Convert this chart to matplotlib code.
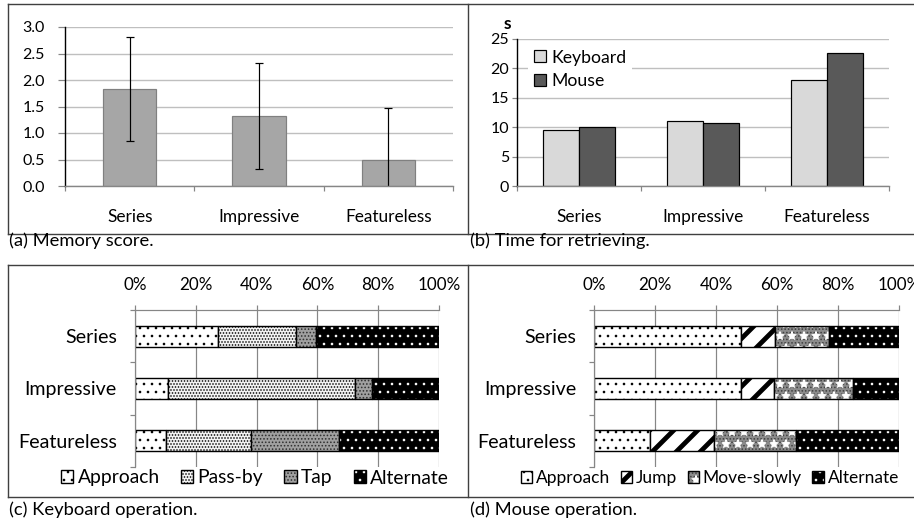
import numpy as np
import matplotlib
matplotlib.use('Agg')
import matplotlib.pyplot as plt
from matplotlib.lines import Line2D

plt.rcParams['font.family'] = ['Lato', 'DejaVu Sans']
plt.rcParams['hatch.linewidth'] = 0.5

# data
categories = ['Series', 'Impressive', 'Featureless']
memory_mean = [1.83, 1.33, 0.49]
memory_err = [0.99, 1.0, 0.99]

time_keyboard = [9.6, 11.1, 18.1]
time_mouse = [10.0, 10.7, 22.6]

kb_labels = ['Approach', 'Pass-by', 'Tap', 'Alternate']
kb_approach = [27.4, 11.0, 10.1]
kb_passby = [25.4, 61.5, 27.9]
kb_tap = [6.9, 5.3, 29.1]
kb_alternate = [40.3, 22.2, 32.9]

ms_labels = ['Approach', 'Jump', 'Move-slowly', 'Alternate']
ms_approach = [48.1, 48.1, 18.3]
ms_jump = [11.1, 10.8, 20.9]
ms_moveslowly = [17.7, 26.0, 27.1]
ms_alternate = [23.1, 15.1, 33.7]

W, H, DPI = 914, 522, 144
fig = plt.figure(figsize=(W / DPI, H / DPI), dpi=DPI)


def rect(l, t, r, b):
    return [l / W, 1 - b / H, (r - l) / W, (b - t) / H]


def fig_line(x0, y0, x1, y1):
    fig.add_artist(Line2D([x0 / W, x1 / W], [1 - y0 / H, 1 - y1 / H],
                          transform=fig.transFigure, color='#404040', lw=0.7))


grid_c = '#bfbfbf'
axis_c = '#868686'
x = np.arange(len(categories))


def style_column_axes(ax, ymax, step, ytick_len, ypad):
    ax.set_xlim(-0.5, len(categories) - 0.5)
    ax.set_ylim(0, ymax)
    ax.set_xticks(x)
    ax.set_xticklabels(categories, fontsize=8.6)
    ax.set_xticks(np.arange(-0.5, len(categories)), minor=True)
    ax.tick_params(axis='x', which='major', length=0, pad=11.5)
    ax.tick_params(axis='x', which='minor', length=2.5, color=axis_c, width=0.6)
    ax.set_yticks(np.arange(0, ymax + step / 2, step))
    ax.tick_params(axis='y', labelsize=8, length=ytick_len, color=axis_c,
                   width=0.6, pad=ypad)
    ax.yaxis.grid(True, color=grid_c, lw=0.7)
    ax.set_axisbelow(True)
    for s in ['top', 'right']:
        ax.spines[s].set_visible(False)
    ax.spines['left'].set_color('black')
    ax.spines['left'].set_linewidth(0.7)
    ax.spines['bottom'].set_color(axis_c)
    ax.spines['bottom'].set_linewidth(0.7)


# (a) Memory score
ax1 = fig.add_axes(rect(65, 27, 453, 186))
ax1.bar(x, memory_mean, width=0.41, color='#a6a6a6', edgecolor='#808080', lw=0.6)
ax1.errorbar(x, memory_mean, yerr=memory_err, fmt='none', ecolor='black',
             elinewidth=0.6, capsize=1.8, capthick=0.6)
style_column_axes(ax1, 3.0, 0.5, 3.5, 6.5)
ax1.yaxis.set_major_formatter(matplotlib.ticker.FormatStrFormatter('%.1f'))

# (b) Time for retrieving
ax2 = fig.add_axes(rect(517, 39, 889, 186))
bw = 0.288
ax2.bar(x - bw / 2, time_keyboard, width=bw, color='#d9d9d9', edgecolor='black',
        lw=0.6, label='Keyboard')
ax2.bar(x + bw / 2, time_mouse, width=bw, color='#595959', edgecolor='black',
        lw=0.6, label='Mouse')
style_column_axes(ax2, 25, 5, 2.5, 1.5)
ax2.legend(loc='upper left', bbox_to_anchor=(0.005, 1.03), fontsize=8.8,
           handlelength=0.68, handleheight=0.68, handletextpad=0.3,
           labelspacing=0.42, borderpad=0.35, frameon=True, fancybox=False,
           framealpha=1, facecolor='white', edgecolor='none')
fig.text(507 / W, 1 - 24 / H, 's', fontsize=8.6, fontweight='bold', ha='center', va='center')


def stacked_panel(rc, series, labels, styles, legend_x, leg_size, leg_colsp):
    ax = fig.add_axes(rc)
    y = np.arange(len(categories))
    left = np.zeros(len(categories))
    handles = []
    for vals, lab, st in zip(series, labels, styles):
        vals = np.array(vals)
        with plt.rc_context({'hatch.linewidth': st.get('hlw', 0.5)}):
            b = ax.barh(y, vals, left=left, height=0.4, color=st['face'],
                        edgecolor=st['hcolor'], hatch=st['hatch'], lw=0)
        for p in b:
            if hasattr(p, 'set_hatch_linewidth'):
                p.set_hatch_linewidth(st.get('hlw', 0.5))
        parts = [b]
        if 'hatch2' in st:
            b2 = ax.barh(y, vals, left=left, height=0.4, fill=False,
                         edgecolor=st['hcolor2'], hatch=st['hatch2'], lw=0)
            parts.append(b2)
        outline = ax.barh(y, vals, left=left, height=0.4, fill=False,
                          edgecolor='black', lw=0.7)
        parts.append(outline)
        handles.append(tuple(p[0] for p in parts))
        left = left + vals
    ax.set_xlim(0, 100)
    ax.set_ylim(len(categories) - 0.5, -0.5)
    ax.xaxis.tick_top()
    ax.set_xticks(np.arange(0, 101, 20))
    ax.set_xticklabels(['%d%%' % v for v in range(0, 101, 20)], fontsize=8.5)
    ax.tick_params(axis='x', length=2.5, color=axis_c, width=0.6, pad=6)
    ax.set_yticks(y)
    ax.set_yticklabels(categories, fontsize=9.8)
    ax.set_yticks(np.arange(-0.5, len(categories)), minor=True)
    ax.tick_params(axis='y', which='major', length=0, pad=9)
    ax.tick_params(axis='y', which='minor', length=2.5, color=axis_c, width=0.6)
    ax.xaxis.grid(True, color=axis_c, lw=0.6)
    ax.set_axisbelow(True)
    for s in ['bottom', 'right']:
        ax.spines[s].set_visible(False)
    for s in ['top', 'left']:
        ax.spines[s].set_color(axis_c)
        ax.spines[s].set_linewidth(0.6)
    leg = fig.legend(handles=handles, labels=labels, loc='center',
                     bbox_to_anchor=(legend_x / W, 1 - 478 / H), ncol=4,
                     fontsize=leg_size, frameon=False, handlelength=0.65,
                     handleheight=0.65, handletextpad=0.22,
                     columnspacing=leg_colsp, borderaxespad=0)
    for h, st in zip(leg.legend_handles, styles):
        if hasattr(h, 'set_hatch_linewidth'):
            h.set_hatch_linewidth(st.get('hlw', 0.5))
    return ax


approach_st = dict(face='white', hcolor='black', hatch='...')
alternate_st = dict(face='black', hcolor='white', hatch='...')

kb_styles = [approach_st,
             dict(face='#f2f2f2', hcolor='black', hatch='........'),
             dict(face='#a0a0a0', hcolor='#303030', hatch='.......'),
             alternate_st]
ms_styles = [approach_st,
             dict(face='white', hcolor='black', hatch='//', hlw=2.4),
             dict(face='#8c8c8c', hcolor='#404040', hatch='.......',
                  hatch2='**', hcolor2='white'),
             alternate_st]

# (c) Keyboard operation
stacked_panel(rect(135, 310, 439, 467), [kb_approach, kb_passby, kb_tap, kb_alternate],
              kb_labels, kb_styles, 255, 9.6, 1.1)
# (d) Mouse operation
stacked_panel(rect(594, 310, 899, 467), [ms_approach, ms_jump, ms_moveslowly, ms_alternate],
              ms_labels, ms_styles, 710, 8.7, 0.6)

# panel frames
fig_line(8, 4, 914, 4)
fig_line(8, 234, 914, 234)
fig_line(8, 4, 8, 234)
fig_line(468, 4, 468, 234)
fig_line(8, 265, 914, 265)
fig_line(8, 497, 914, 497)
fig_line(8, 265, 8, 497)
fig_line(468, 265, 468, 497)

cap_kw = dict(fontsize=9.2, ha='left', va='center')
fig.text(9 / W, 1 - 241 / H, '(a) Memory score.', **cap_kw)
fig.text(470 / W, 1 - 241 / H, '(b) Time for retrieving.', **cap_kw)
fig.text(9 / W, 1 - 510 / H, '(c) Keyboard operation.', **cap_kw)
fig.text(470 / W, 1 - 510 / H, '(d) Mouse operation.', **cap_kw)

fig.savefig('out.png', dpi=DPI)
